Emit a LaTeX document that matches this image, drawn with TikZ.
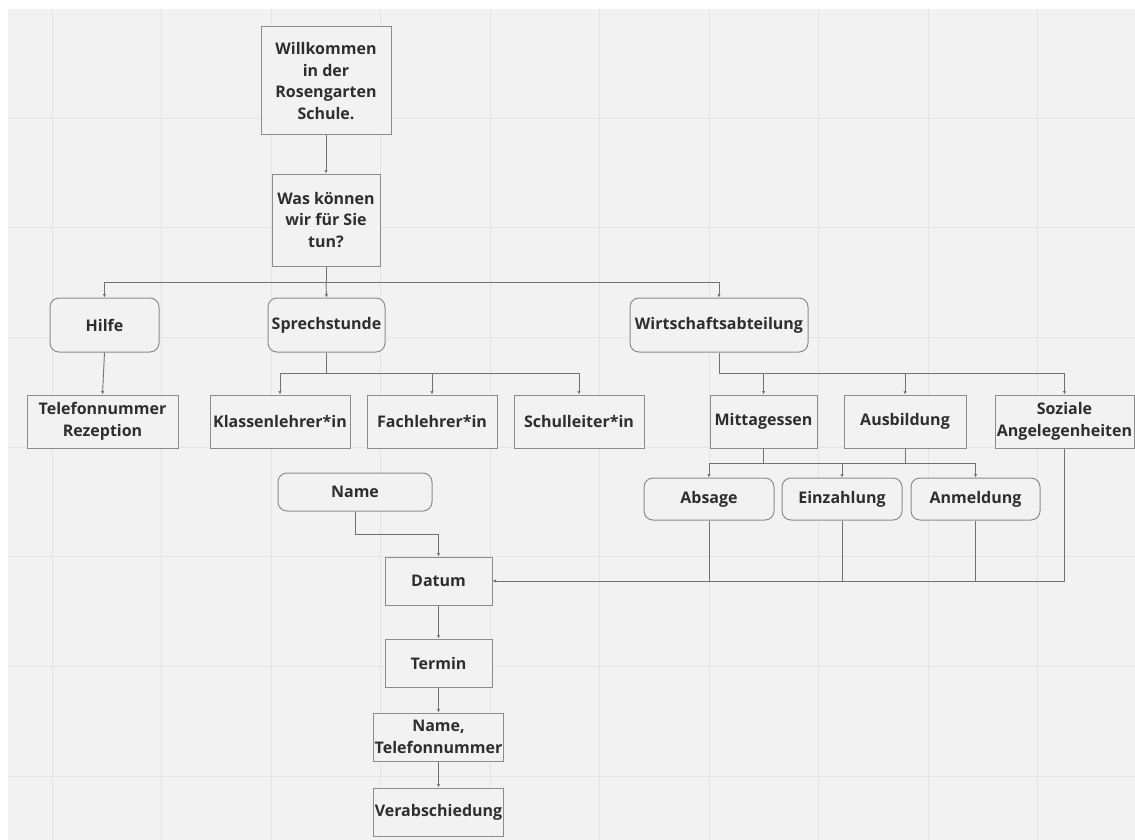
\documentclass[tikz,border=0pt]{standalone}
\usepackage{fontspec}
\setmainfont{Open Sans}
\usetikzlibrary{arrows.meta,calc}
\definecolor{bg}{HTML}{F2F2F2}
\definecolor{gridc}{HTML}{E4E4E4}
\definecolor{boxc}{HTML}{8C8C8C}
\definecolor{linec}{HTML}{727272}
\definecolor{txt}{HTML}{2E2E2E}
\tikzset{
  base/.style={draw=boxc, line width=1pt, fill=bg, text=txt, align=center, inner sep=0pt,
    font=\fontsize{16}{21.5}\selectfont\bfseries},
  sq/.style={base},
  rd/.style={base, rounded corners=9pt},
  conn/.style={draw=linec, line width=0.9pt},
  arr/.style={conn, -{Latex[length=3.5pt,width=3.5pt]}},
}
\begin{document}
\begin{tikzpicture}[x=1pt,y=-1pt]
\useasboundingbox (0,0) rectangle (1135,840);
\fill[white] (0,0) rectangle (1135,840);
\fill[bg] (8,9) rectangle (1135,840);
\foreach \i in {0,...,9} {\draw[gridc, line width=0.8pt] ({52+109.5*\i},9) -- ({52+109.5*\i},840);}
\foreach \j in {0,...,6} {\draw[gridc, line width=0.8pt] (8,{118+109.7*\j}) -- (1135,{118+109.7*\j});}

% nodes
\node[sq, minimum width=130pt, minimum height=108pt] (welcome) at (326,81) {Willkommen\\in der\\Rosengarten\\Schule.};
\node[sq, minimum width=108pt, minimum height=92pt] (was) at (326,220) {Was können\\wir für Sie\\tun?};

\node[rd, minimum width=109pt, minimum height=54pt] (hilfe) at (104.5,325) {Hilfe};
\node[rd, minimum width=117pt, minimum height=54pt] (sprech) at (326.5,325) {Sprechstunde};
\node[rd, minimum width=178pt, minimum height=54pt] (wirt) at (719,325) {Wirtschaftsabteilung};

\node[sq, minimum width=151pt, minimum height=53pt] (tel) at (102.5,421.5) {Telefonnummer\\Rezeption};
\node[sq, minimum width=140pt, minimum height=53pt] (klassen) at (280,421.5) {Klassenlehrer*in};
\node[sq, minimum width=130pt, minimum height=53pt] (fach) at (432,421.5) {Fachlehrer*in};
\node[sq, minimum width=130pt, minimum height=53pt] (schul) at (579,421.5) {Schulleiter*in};
\node[sq, minimum width=107pt, minimum height=53pt] (mittag) at (763.5,421.5) {Mittagessen};
\node[sq, minimum width=122pt, minimum height=53pt] (ausb) at (905,421.5) {Ausbildung};
\node[sq, minimum width=139pt, minimum height=53pt] (soz) at (1064.5,421.5) {Soziale\\Angelegenheiten};

\node[rd, minimum width=130pt, minimum height=42pt] (absage) at (709,499) {Absage};
\node[rd, minimum width=120pt, minimum height=42pt] (einz) at (842,499) {Einzahlung};
\node[rd, minimum width=129pt, minimum height=42pt] (anm) at (975.5,499) {Anmeldung};

\node[rd, minimum width=154pt, minimum height=38pt] (name) at (355,492) {Name};
\node[sq, minimum width=107pt, minimum height=48pt] (datum) at (438.5,581) {Datum};
\node[sq, minimum width=107pt, minimum height=48pt] (termin) at (438.5,663) {Termin};
\node[sq, minimum width=130pt, minimum height=48pt] (nametel) at (438.5,737) {Name,\\Telefonnummer};
\node[sq, minimum width=130pt, minimum height=48pt] (verab) at (438.5,812) {Verabschiedung};

% connectors
\draw[arr] (welcome.south) -- (was.north);
\coordinate (b1) at (326,282);
\draw[conn] (was.south) -- (b1);
\draw[arr] (b1) -| (hilfe.north);
\draw[arr] (b1) -| (wirt.north);
\draw[arr] (b1) -- (sprech.north);
\draw[arr] (hilfe.south) -- (tel.north);

\coordinate (b2) at (326.5,373);
\draw[conn] (sprech.south) -- (b2);
\draw[arr] (b2) -| (klassen.north);
\draw[arr] (b2) -| (fach.north);
\draw[arr] (b2) -| (schul.north);

\coordinate (b3) at (719,373);
\draw[conn] (wirt.south) -- (b3);
\draw[arr] (b3) -| (mittag.north);
\draw[arr] (b3) -| (ausb.north);
\draw[arr] (b3) -| (soz.north);

\coordinate (b4) at (763.5,463);
\coordinate (b5) at (905,463);
\draw[conn] (mittag.south) -- (b4);
\draw[conn] (ausb.south) -- (b5);
\draw[arr] (b4) -| (absage.north);
\draw[arr] (b5) -| (anm.north);
\draw[conn] (b4) -- (b5);
\draw[arr] (einz.north |- b4) -- (einz.north);

\draw[arr] (name.south) -- ++(0,23) -| (datum.north);
\draw[conn] (absage.south) -- (absage.south |- datum.east);
\draw[conn] (einz.south) -- (einz.south |- datum.east);
\draw[conn] (anm.south) -- (anm.south |- datum.east);
\draw[arr] (soz.south) |- (datum.east);

\draw[arr] (datum.south) -- (termin.north);
\draw[arr] (termin.south) -- (nametel.north);
\draw[arr] (nametel.south) -- (verab.north);
\end{tikzpicture}
\end{document}
